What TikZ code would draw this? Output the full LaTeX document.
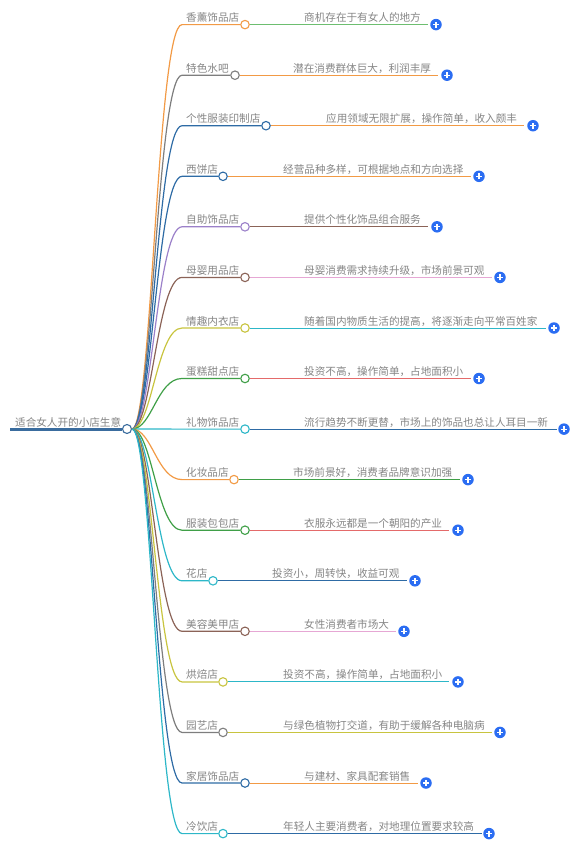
\documentclass[tikz,border=0pt]{standalone}
\usepackage{fontspec}
\newfontfamily\cjk{Noto Sans CJK SC}
\definecolor{cOrange}{HTML}{F29A45}
\definecolor{cGray}{HTML}{7E7E7E}
\definecolor{cBlue}{HTML}{2E6BA5}
\definecolor{cPurple}{HTML}{9B80C9}
\definecolor{cBrown}{HTML}{8B6357}
\definecolor{cPink}{HTML}{E6A7D4}
\definecolor{cOlive}{HTML}{C8C43F}
\definecolor{cTeal}{HTML}{2DB7C8}
\definecolor{cGreen}{HTML}{3F9F47}
\definecolor{cGreenL}{HTML}{6DBE70}
\definecolor{cRed}{HTML}{E46A6A}
\definecolor{rootBlue}{HTML}{3A6C9E}
\definecolor{txtgray}{HTML}{858585}
\definecolor{plusblue}{HTML}{2B6DF2}
\begin{document}
\begin{tikzpicture}[x=1pt,y=-1pt,
  lbl/.style={font=\cjk\fontsize{10.6}{12}\selectfont, text=txtgray, inner sep=0pt, anchor=base west},
  dot/.style={circle, draw=#1, fill=white, line width=1.1pt, minimum size=8.5pt, inner sep=0pt},
  plusicon/.style={circle, fill=plusblue, minimum size=11.5pt, inner sep=0pt,
    path picture={\draw[white,line width=1.2pt]
      ([xshift=-3pt]path picture bounding box.center) -- ([xshift=3pt]path picture bounding box.center)
      ([yshift=-3pt]path picture bounding box.center) -- ([yshift=3pt]path picture bounding box.center);}},
  branch/.style={draw=#1, line width=1.2pt},
  sub/.style={draw=#1, line width=1pt}]
\useasboundingbox (0,0) rectangle (580,852);
% root
\coordinate (rs) at (10,429);
\node[dot=rootBlue, minimum size=9pt] (R) at (127,429) {};
\node[lbl] (rt) at (15,426) {适合女人开的小店生意};
\draw[rootBlue, line width=3pt] (rs) -- (R.west);
\foreach \i/\y/\cx/\sx/\ex/\px/\bc/\lc/\ta/\tb in {
 1/24.6/245/304/428/436/cOrange/cGreenL/香薰饰品店/商机存在于有女人的地方,
 2/75.2/235/293/438/447/cGray/cOrange/特色水吧/潜在消费群体巨大，利润丰厚,
 3/125.7/266/326/524/533/cBlue/cOrange/个性服装印制店/应用领域无限扩展，操作简单，收入颇丰,
 4/176.3/223/283/471/479/cBlue/cOrange/西饼店/经营品种多样，可根据地点和方向选择,
 5/226.8/245/304/428/437/cPurple/cBrown/自助饰品店/提供个性化饰品组合服务,
 6/277.4/245/304/492/500/cBrown/cPink/母婴用品店/母婴消费需求持续升级，市场前景可观,
 7/328.0/245/304/546/554/cOlive/cTeal/情趣内衣店/随着国内物质生活的提高，将逐渐走向平常百姓家,
 8/378.5/245/304/471/479/cGreen/cRed/蛋糕甜点店/投资不高，操作简单，占地面积小,
 9/429.1/245/304/557/564/cTeal/cBlue/礼物饰品店/流行趋势不断更替，市场上的饰品也总让人耳目一新,
 10/479.6/234/293/460/468/cOrange/cGreen/化妆品店/市场前景好，消费者品牌意识加强,
 11/530.2/245/304/449/458/cGreen/cRed/服装包包店/衣服永远都是一个朝阳的产业,
 12/580.8/213/272/407/415/cTeal/cBlue/花店/投资小，周转快，收益可观,
 13/631.3/245/304/396/404/cBrown/cPink/美容美甲店/女性消费者市场大,
 14/681.9/223/283/449/458/cOlive/cTeal/烘焙店/投资不高，操作简单，占地面积小,
 15/732.4/223/283/492/500/cGray/cOlive/园艺店/与绿色植物打交道，有助于缓解各种电脑病,
 16/783.0/245/304/418/426/cBlue/cOrange/家居饰品店/与建材、家具配套销售,
 17/833.6/223/283/482/489/cTeal/cBlue/冷饮店/年轻人主要消费者，对地理位置要求较高}
{
  \coordinate (b\i) at (182,\y);
  \node[dot=\bc] (c\i) at (\cx,\y) {};
  \node[lbl] (t\i) at (186,\y-3) {\ta};
  \node[lbl] (s\i) at (\sx,\y-3) {\tb};
  \coordinate (e\i) at (\ex,\y);
  \node[plusicon] (p\i) at (\px,\y) {};
  \draw[branch=\bc] (R.east) .. controls +(20,0) and +(-25,0) .. (b\i) -- (c\i.west);
  \draw[sub=\lc] (c\i.east) -- (e\i);
}
\end{tikzpicture}
\end{document}
